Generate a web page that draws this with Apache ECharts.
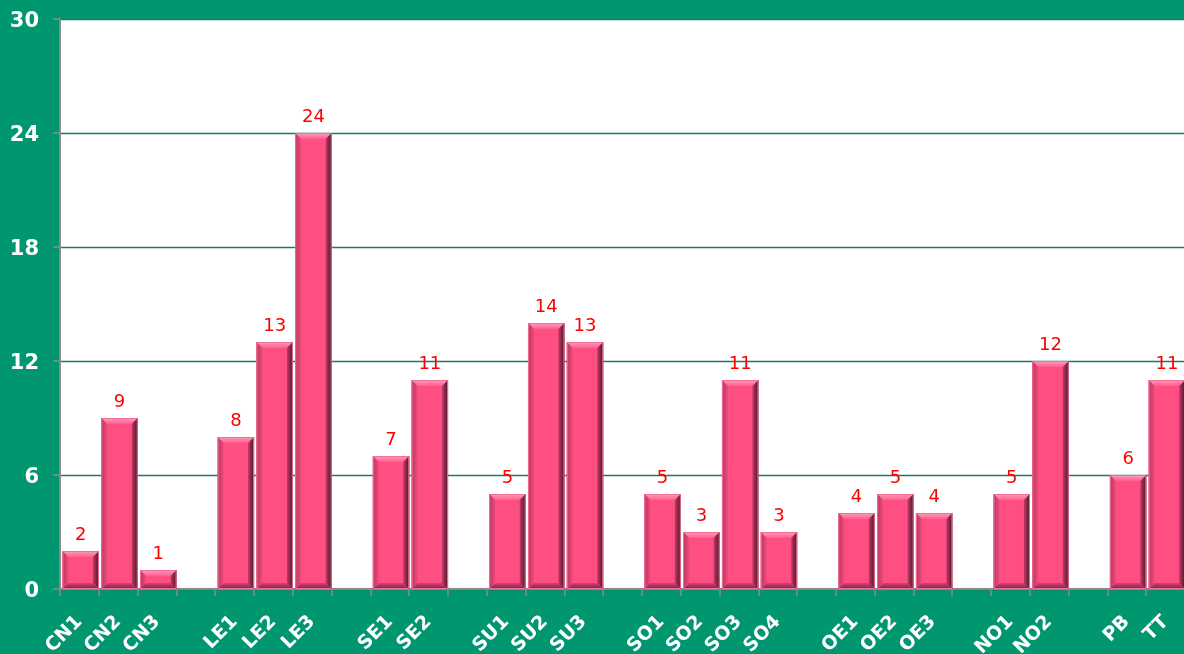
<!DOCTYPE html>
<html>
<head>
<meta charset="utf-8">
<script src="https://cdn.jsdelivr.net/npm/echarts@6/dist/echarts.min.js"></script>
<style>
html,body{margin:0;padding:0;background:#009670;}
#c{width:1184px;height:654px;}
</style>
</head>
<body>
<div id="c"></div>
<script>
var categories = ['CN1','CN2','CN3','','LE1','LE2','LE3','','SE1','SE2','','SU1','SU2','SU3','','SO1','SO2','SO3','SO4','','OE1','OE2','OE3','','NO1','NO2','','PB','TT'];
var values = [2,9,1,null,8,13,24,null,7,11,null,5,14,13,null,5,3,11,3,null,4,5,4,null,5,12,null,6,11];
var yTicks = {min:0, max:30, interval:6};

var seriesData = values.map(function(v,i){ return [i, v]; });

function renderBar(params, api){
  var v = api.value(1);
  if (v === null || v === undefined || isNaN(v)) return;
  var idx = api.value(0);
  var topPt = api.coord([idx, v]);
  var basePt = api.coord([idx, 0]);
  var cw = api.size([1,0])[0];
  var bw = cw * 0.94;
  var l = topPt[0] - bw/2 + 1.3, r = l + bw;
  var t = topPt[1], b = basePt[1];
  var e = Math.min(6, (b - t)/2);
  var children = [
    {type:'rect', shape:{x:l, y:t, width:bw, height:b-t}, style:{fill:'#ff4f82'}},
    {type:'polygon', shape:{points:[[l,t],[r,t],[r-e,t+e],[l+e,t+e]]},
      style:{fill:new echarts.graphic.LinearGradient(0,0,0,1,[{offset:0,color:'#ff9dbd'},{offset:1,color:'#ff5f8c'}])}},
    {type:'polygon', shape:{points:[[l,b],[r,b],[r-e,b-e],[l+e,b-e]]},
      style:{fill:new echarts.graphic.LinearGradient(0,0,0,1,[{offset:0,color:'#d6416e'},{offset:1,color:'#7a2244'}])}},
    {type:'polygon', shape:{points:[[l,t],[l+e,t+e],[l+e,b-e],[l,b]]},
      style:{fill:new echarts.graphic.LinearGradient(0,0,1,0,[{offset:0,color:'#b8375f'},{offset:1,color:'#f04a7c'}])}},
    {type:'polygon', shape:{points:[[r,t],[r-e,t+e],[r-e,b-e],[r,b]]},
      style:{fill:new echarts.graphic.LinearGradient(0,0,1,0,[{offset:0,color:'#c23a66'},{offset:1,color:'#4a1428'}])}},
    {type:'rect', shape:{x:l+0.5, y:t+0.5, width:bw-1, height:b-t-1}, style:{fill:null, stroke:'#f07098', lineWidth:1}},
    {type:'text', style:{text:String(v), x:(l+r)/2, y:t-7, align:'center', verticalAlign:'bottom',
      fill:'#ff0000', font:'normal 18px "DejaVu Sans"'}}
  ];
  return {type:'group', children:children};
}

var chart = echarts.init(document.getElementById('c'));
chart.setOption({
  backgroundColor:'#009670',
  animation:false,
  grid:{left:60, right:-1, top:19, bottom:65, containLabel:false, outerBoundsMode:'none', show:true, backgroundColor:'#ffffff', borderWidth:0},
  xAxis:{
    type:'category', data:categories,
    axisLine:{lineStyle:{color:'#8a8a8a', width:2}},
    axisTick:{show:true, interval:0, length:7, lineStyle:{color:'#8a8a8a', width:1.5}},
    axisLabel:{interval:0, rotate:45, margin:30, color:'#ffffff', fontFamily:'DejaVu Sans', fontWeight:'bold', fontSize:19},
    splitLine:{show:false}
  },
  yAxis:{
    type:'value', min:yTicks.min, max:yTicks.max, interval:yTicks.interval,
    axisLine:{show:true, lineStyle:{color:'#8a8a8a', width:2}},
    axisTick:{show:true, length:7, lineStyle:{color:'#8a8a8a', width:1.5}},
    axisLabel:{margin:21, formatter:'{a|{value}}',
      rich:{a:{padding:[6,0,0,0], color:'#ffffff', fontFamily:'DejaVu Sans', fontWeight:'bold', fontSize:21}},
      color:'#ffffff', fontFamily:'DejaVu Sans', fontWeight:'bold', fontSize:21},
    splitLine:{show:true, lineStyle:{color:'#1f7a62', width:1.3}}
  },
  series:[{
    type:'custom', data:seriesData, renderItem:renderBar, clip:false,
    encode:{x:0, y:1}, z:5
  }]
});
</script>
</body>
</html>
